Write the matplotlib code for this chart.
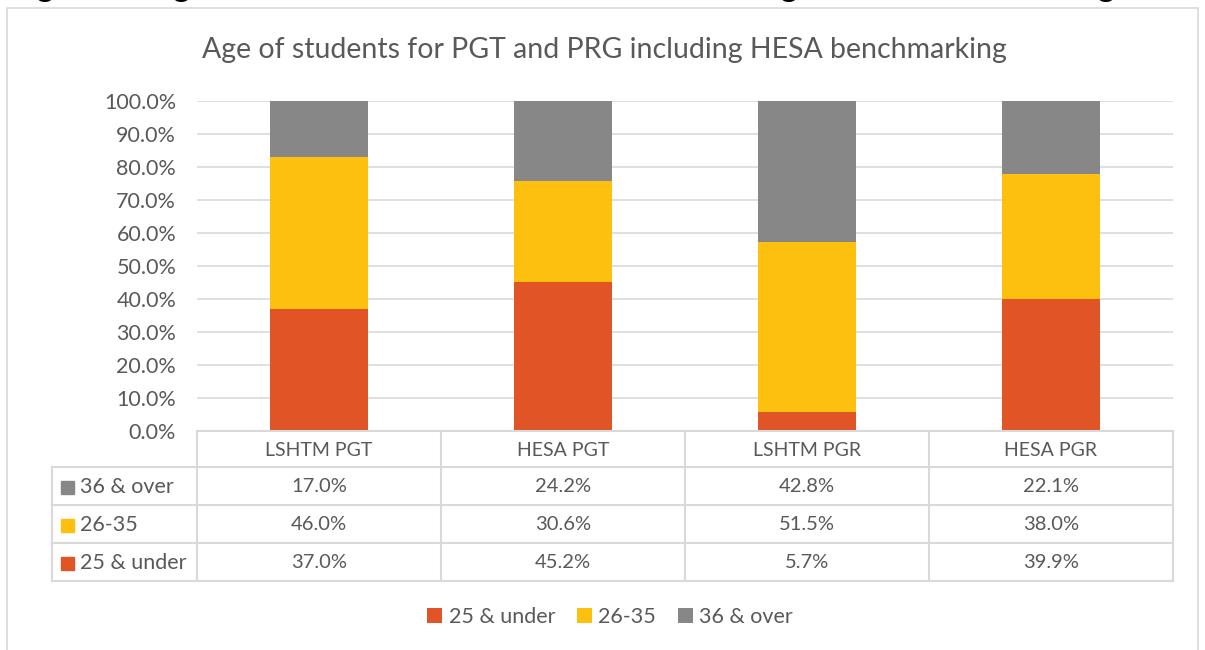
import matplotlib.pyplot as plt
from matplotlib.patches import Rectangle

# data
categories = ["LSHTM PGT", "HESA PGT", "LSHTM PGR", "HESA PGR"]
under_25 = [37.0, 45.2, 5.7, 39.9]
age_26_35 = [46.0, 30.6, 51.5, 38.0]
over_36 = [17.0, 24.2, 42.8, 22.1]
series_names = ["25 & under", "26-35", "36 & over"]
colors = ["#E05426", "#FEC00F", "#878787"]
title = "Age of students for PGT and PRG including HESA benchmarking"
caption = "Figure 8: Age of students for PGT and PGR including HESA benchmarking"

plt.rcParams['font.family'] = ['Lato', 'DejaVu Sans']
txt = "#595959"
grid_c = "#D9D9D9"

W, H = 1205, 650
fig = plt.figure(figsize=(W / 100, H / 100), dpi=100)


def fx(px):
    return px / W


def fy(py):
    return 1 - py / H


# cut-off caption above the chart (only descenders visible)
fig.text(fx(9), fy(-4), caption, fontsize=24.7, color="black", va="baseline", ha="left")

# chart border
fig.patches.append(Rectangle((fx(7), fy(660)), fx(1198) - fx(7), fy(8) - fy(660),
                             transform=fig.transFigure, fill=False,
                             edgecolor=grid_c, linewidth=1.2))

fig.text(fx(604), fy(50), title, fontsize=20.5, color=txt, ha="center", va="center")

# main plot area
left, right, top, bottom = 197, 1173, 101, 431
ax = fig.add_axes([fx(left), fy(bottom), fx(right) - fx(left), fy(top) - fy(bottom)])
x = range(len(categories))
series = [under_25, age_26_35, over_36]
base = [0.0] * len(categories)
handles = []
for vals, name, col in zip(series, series_names, colors):
    b = ax.bar(x, vals, width=0.4, bottom=base, color=col, label=name, zorder=2)
    handles.append(b)
    base = [a + v for a, v in zip(base, vals)]

ax.set_xlim(-0.5, len(categories) - 0.5)
ax.set_ylim(0, 100)
ax.set_yticks(range(0, 101, 10))
ax.set_yticklabels([f"{v:.1f}%" for v in range(0, 101, 10)], fontsize=15.5, color=txt)
ax.tick_params(axis="y", length=0, pad=15)
ax.set_xticks([])
ax.yaxis.grid(True, color=grid_c, linewidth=1.2, zorder=0)
for s in ax.spines.values():
    s.set_visible(False)

# data table
col_w = (right - left) / len(categories)
row_tops = [431, 467, 505, 543, 581]
tab = fig.add_axes([fx(40), fy(600), fx(1190) - fx(40), fy(425) - fy(600)])
tab.set_xlim(40, 1190)
tab.set_ylim(600, 425)
tab.axis("off")
lw = 1.5
tab.plot([left, right], [row_tops[0], row_tops[0]], color=grid_c, lw=lw)
for r in row_tops[1:]:
    tab.plot([52, right], [r, r], color=grid_c, lw=lw)
for i in range(len(categories) + 1):
    xx = left + i * col_w
    tab.plot([xx, xx], [row_tops[0], row_tops[-1]], color=grid_c, lw=lw)
tab.plot([52, 52], [row_tops[1], row_tops[-1]], color=grid_c, lw=lw)

for i, c in enumerate(categories):
    tab.text(left + (i + 0.5) * col_w, (row_tops[0] + row_tops[1]) / 2 + 1, c,
             ha="center", va="center", fontsize=14, color=txt)

rows = list(zip(series_names, series, colors))[::-1]
for k, (name, vals, col) in enumerate(rows):
    yc = (row_tops[k + 1] + row_tops[k + 2]) / 2 + 1
    tab.add_patch(Rectangle((61, yc - 6), 13, 13, color=col))
    tab.text(80, yc, name, ha="left", va="center", fontsize=15.5, color=txt)
    for i, v in enumerate(vals):
        tab.text(left + (i + 0.5) * col_w, yc, f"{v:.1f}%", ha="center", va="center",
                 fontsize=14.5, color=txt)

fig.legend(handles=handles, labels=series_names, loc="center", ncol=3,
           bbox_to_anchor=(fx(610), fy(617)), frameon=False, fontsize=15.5,
           labelcolor=txt, handlelength=0.7, handleheight=0.7, handletextpad=0.3,
           columnspacing=1.0)

fig.savefig("out.png", dpi=100, facecolor="white")
